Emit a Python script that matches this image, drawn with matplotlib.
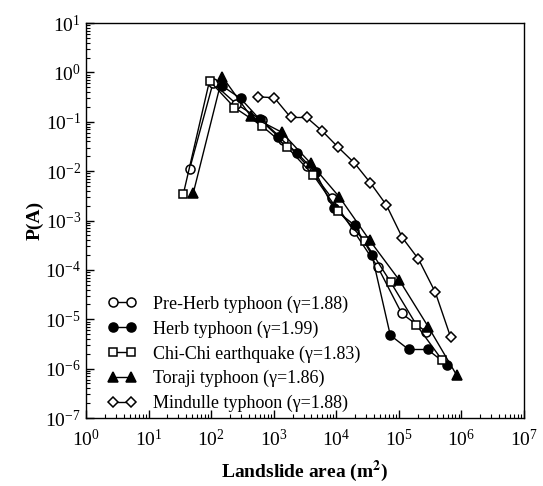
import matplotlib
matplotlib.use("Agg")
import matplotlib.pyplot as plt
from matplotlib.ticker import LogLocator, NullFormatter

plt.rcParams["font.family"] = ["Liberation Serif", "DejaVu Serif"]
plt.rcParams["mathtext.fontset"] = "stix"

# Pre-Herb typhoon (open circles)
preherb_area = [45.1, 107, 254, 638, 1433, 3442, 8390, 19190, 46450, 111000, 274700]
preherb_p = [0.0108, 0.607, 0.228, 0.108, 0.0425, 0.0129, 0.0029, 6.0e-4, 1.12e-4, 1.31e-5, 5.54e-6]

# Herb typhoon (filled circles)
herb_area = [151, 295, 593, 1183, 2373, 4656, 9030, 19550, 37240, 72990, 143600, 287000, 588500]
herb_p = [0.528, 0.297, 0.113, 0.05, 0.0232, 0.00955, 0.00175, 8.05e-4, 1.99e-4, 4.75e-6, 2.44e-6, 2.44e-6, 1.2e-6]

# Chi-Chi earthquake (open squares)
chichi_area = [35.9, 94.2, 236, 638, 1614, 4295, 10770, 28250, 73600, 190100, 484000]
chichi_p = [0.00342, 0.676, 0.1936, 0.0836, 0.0311, 0.0083, 0.00157, 3.82e-4, 5.71e-5, 7.76e-6, 1.53e-6]

# Toraji typhoon (filled triangles)
toraji_area = [51.9, 151, 429, 1332, 3873, 11250, 33960, 101700, 295600, 840700]
toraji_p = [0.00363, 0.814, 0.13, 0.0617, 0.0145, 0.00297, 4.0e-4, 6.19e-5, 7.0e-6, 7.35e-7]

# Mindulle typhoon (open diamonds)
mindulle_area = [567, 1022, 1870, 3367, 5980, 10770, 19400, 35000, 63000, 113500, 206000, 383000, 674000]
mindulle_p = [0.32, 0.306, 0.122, 0.122, 0.0647, 0.0302, 0.0147, 0.0058, 0.00207, 4.5e-4, 1.65e-4, 3.5e-5, 4.3e-6]

labels = [
    "Pre-Herb typhoon (\u03b3=1.88)",
    "Herb typhoon (\u03b3=1.99)",
    "Chi-Chi earthquake (\u03b3=1.83)",
    "Toraji typhoon (\u03b3=1.86)",
    "Mindulle typhoon (\u03b3=1.88)",
]

fig = plt.figure(figsize=(5.43, 4.86), dpi=100)
ax = fig.add_axes([86 / 543, 1 - 418 / 486, 438 / 543, 395 / 486])

series = [
    (preherb_area, preherb_p, "o", "white", 6.5),
    (herb_area, herb_p, "o", "black", 6.5),
    (chichi_area, chichi_p, "s", "white", 6),
    (toraji_area, toraji_p, "^", "black", 7),
    (mindulle_area, mindulle_p, "D", "white", 5.5),
]
for (xs, ys, m, fc, ms), lab in zip(series, labels):
    ax.plot(xs, ys, marker=m, mfc=fc, mec="black", color="black",
            ms=ms, mew=1.1, lw=1.0, label=lab)

ax.set_xscale("log")
ax.set_yscale("log")
ax.set_xlim(1, 1e7)
ax.set_ylim(1e-7, 10)
ax.xaxis.set_major_locator(LogLocator(base=10, numticks=20))
ax.yaxis.set_major_locator(LogLocator(base=10, numticks=20))
ax.xaxis.set_minor_locator(LogLocator(base=10, subs=range(2, 10), numticks=20))
ax.yaxis.set_minor_locator(LogLocator(base=10, subs=range(2, 10), numticks=20))
ax.xaxis.set_minor_formatter(NullFormatter())
ax.yaxis.set_minor_formatter(NullFormatter())
ax.tick_params(which="both", direction="in", top=False, right=False, labelsize=14)
ax.tick_params(which="major", length=6, width=1)
ax.tick_params(which="minor", length=3, width=0.8)
ax.tick_params(axis="x", which="major", pad=8)
for s in ax.spines.values():
    s.set_linewidth(1.0)

ax.set_xlabel("Landslide area (m$^\\mathbf{2}$)", fontsize=14, fontweight="bold", labelpad=6)
ax.set_ylabel("P(A)", fontsize=14, fontweight="bold", labelpad=1)

ax.legend(loc="lower left", frameon=False, fontsize=13, numpoints=2,
          handlelength=1.6, handletextpad=0.9, labelspacing=0.42,
          borderaxespad=0.2, bbox_to_anchor=(0.025, -0.013))

fig.savefig("out.png", dpi=100)
